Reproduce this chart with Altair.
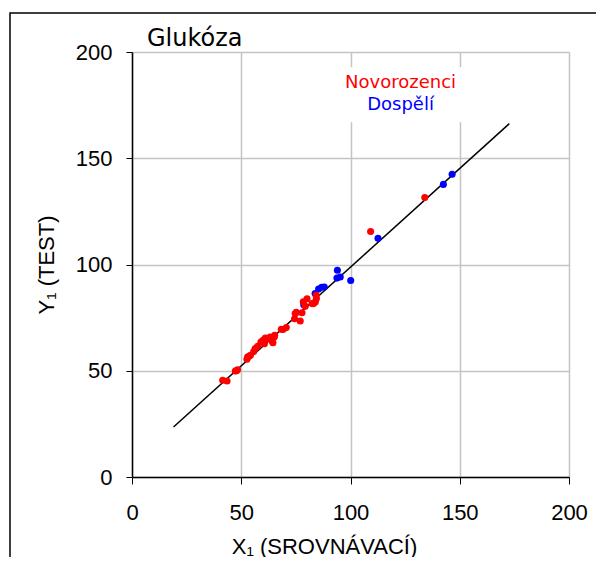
import altair as alt
import pandas as pd

# Data
red_x = [41.5, 43.5, 47.3, 48.3, 47.8, 52.6, 52.9, 53.5, 54.2, 55.7, 56.4, 57.5, 59.0, 60.0,
         60.6, 61.0, 62.0, 63.2, 64.1, 64.5, 65.1, 65.3, 68.3, 69.1, 70.6, 74.4, 74.7, 75.2,
         77.0, 77.8, 78.4, 79.3, 80.1, 82.4, 83.1, 83.9, 84.3, 84.4, 109.2, 134.0]
red_y = [45.5, 45.2, 49.9, 50.5, 50.0, 55.4, 56.5, 56.8, 57.3, 59.1, 60.5, 61.5, 63.5, 64.3,
         62.7, 65.4, 65.0, 65.9, 64.0, 63.2, 65.9, 66.7, 69.5, 69.4, 70.3, 74.5, 76.9, 77.5,
         73.4, 77.3, 82.4, 80.3, 83.9, 81.6, 81.6, 82.4, 85.5, 84.0, 115.5, 131.5]
blue_x = [78.6, 83.8, 85.4, 86.8, 88.0, 93.8, 95.3, 94.0, 100.1, 112.6, 142.5, 146.5]
blue_y = [81.1, 86.3, 88.5, 89.3, 89.4, 93.6, 94.1, 97.3, 92.5, 112.3, 137.7, 142.5]
fit_x = [19.0, 172.7]
fit_y = [23.5, 166.3]
ticks = [0, 50, 100, 150, 200]
legend_labels = ["Novorozenci", "Dospělí"]
legend_colors = ["#ff0000", "#0000ff"]
legend_x = [122.9, 122.9]
legend_y = [185.2, 175.2]
box_x = [93.4]
box_x2 = [152.8]
box_y = [192.8]
box_y2 = [166.9]

red = pd.DataFrame({"x": red_x, "y": red_y})
blue = pd.DataFrame({"x": blue_x, "y": blue_y})
fit = pd.DataFrame({"x": fit_x, "y": fit_y})
leg = pd.DataFrame({"x": legend_x, "y": legend_y, "t": legend_labels, "c": legend_colors})
box = pd.DataFrame({"x": box_x, "x2": box_x2, "y": box_y, "y2": box_y2})
one = pd.DataFrame({"a": [0]})

xs = alt.Scale(domain=[0, 200], nice=False, zero=False)
ys = alt.Scale(domain=[0, 200], nice=False, zero=False)

xaxis = alt.Axis(values=ticks, title="X₁ (SROVNÁVACÍ)", grid=True, gridColor="#c4c4c4",
                 gridWidth=1.5, domainColor="black", domainWidth=1.5, tickColor="black",
                 tickSize=7, labelFontSize=22, labelFont="Liberation Sans", labelColor="black",
                 labelPadding=18, titleFont="Liberation Sans", titleFontSize=22,
                 titleFontWeight="normal", titleColor="black", titleX=192, titleY=69,
                 titleBaseline="middle", labelFlush=False)
yaxis = alt.Axis(values=ticks, title="Y₁ (TEST)", grid=True, gridColor="#c4c4c4",
                 gridWidth=1.5, domainColor="black", domainWidth=1.5, tickColor="black",
                 tickSize=6, labelFontSize=22, labelFont="Liberation Sans", labelColor="black",
                 labelPadding=14, titleFont="Liberation Sans", titleFontSize=22,
                 titleFontWeight="normal", titleColor="black", titlePadding=17,
                 labelFlush=False)

base_x = alt.X("x:Q", scale=xs, axis=xaxis)
base_y = alt.Y("y:Q", scale=ys, axis=yaxis)

frame = alt.Chart(one).mark_rect(fillOpacity=0, stroke="black", strokeWidth=1.5).encode(
    x=alt.value(-122), x2=alt.value(490), y=alt.value(-39), y2=alt.value(530))

whitebox = alt.Chart(box).mark_rect(fill="white", stroke=None).encode(
    x=alt.X("x:Q", scale=xs, axis=xaxis), x2="x2:Q",
    y=alt.Y("y:Q", scale=ys, axis=yaxis), y2="y2:Q")

line = alt.Chart(fit).mark_line(color="black", strokeWidth=1.5).encode(x=base_x, y=base_y)

pts_blue = alt.Chart(blue).mark_circle(color="#0000ff", size=50, opacity=1).encode(x=base_x, y=base_y)
pts_red = alt.Chart(red).mark_circle(color="#ff0000", size=50, opacity=1).encode(x=base_x, y=base_y)

legend_text = alt.Chart(leg).mark_text(font="DejaVu Sans", fontSize=18, align="center",
                                      baseline="middle").encode(
    x=alt.X("x:Q", scale=xs, axis=xaxis), y=alt.Y("y:Q", scale=ys, axis=yaxis),
    text="t:N", color=alt.Color("c:N", scale=None))

title_text = alt.Chart(one).mark_text(text="Glukóza", font="DejaVu Sans", fontSize=24,
                                      align="left", baseline="alphabetic", color="black").encode(
    x=alt.value(15), y=alt.value(-6.5))

chart = alt.layer(frame, whitebox, line, pts_blue, pts_red, legend_text, title_text).properties(
    width=437, height=425,
    autosize=alt.AutoSizeParams(type="none"),
    padding={"left": 124, "top": 44, "right": 27, "bottom": 80},
).configure_view(stroke="#c4c4c4", strokeWidth=1.5).configure(background="white")

chart.save("out.html", embed_options={"renderer": "svg", "actions": False})
